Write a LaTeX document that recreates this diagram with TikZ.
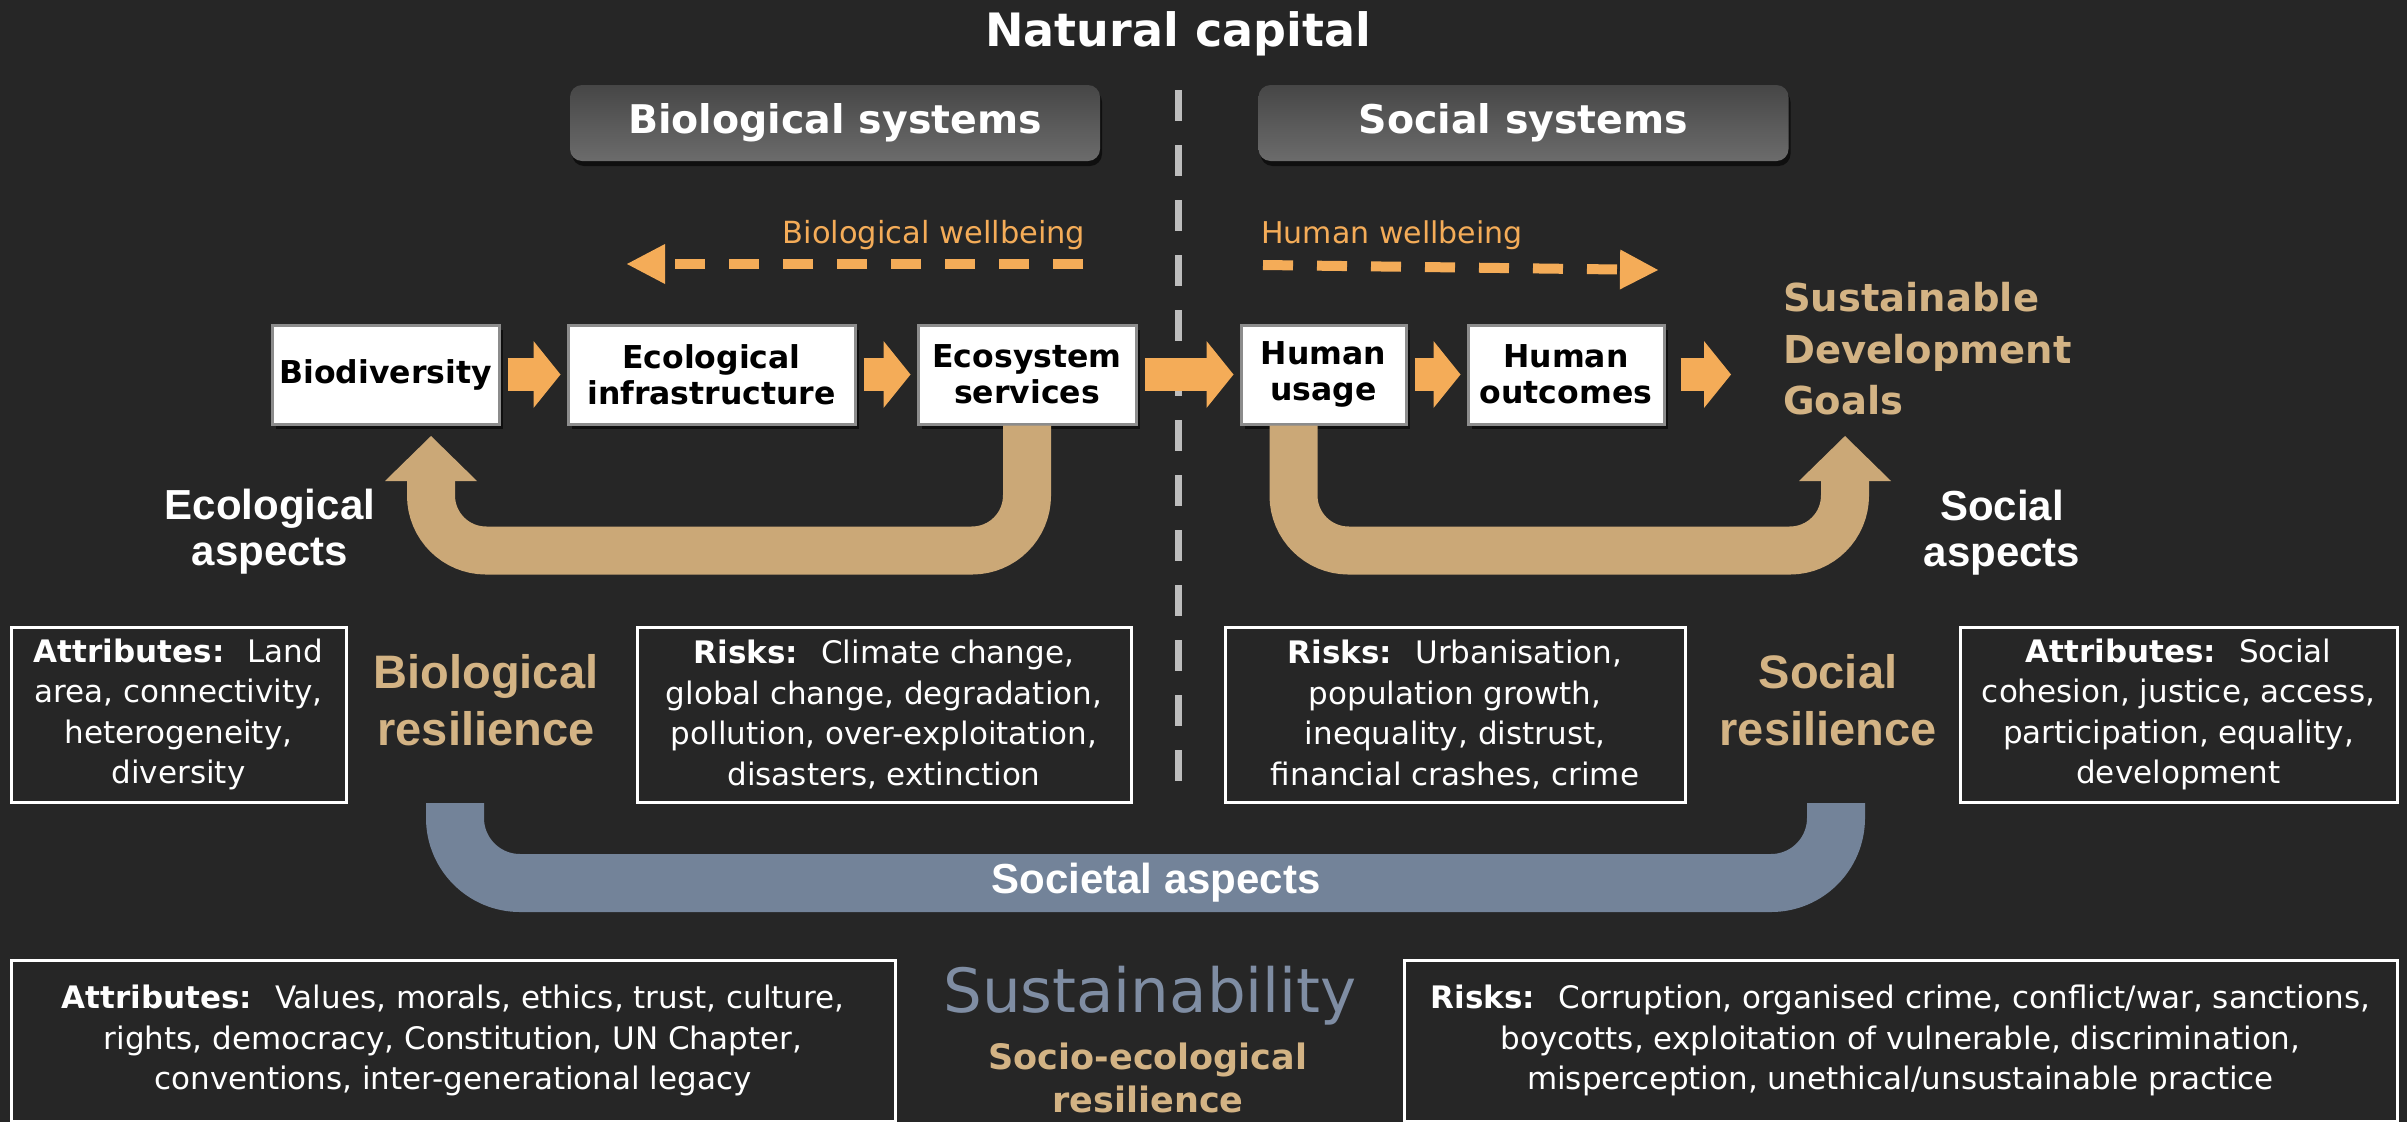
\documentclass[tikz,border=0pt]{standalone}
\usepackage{fontspec}
\setmainfont{DejaVu Sans}
\newfontfamily\arialfont{Liberation Sans}
\usetikzlibrary{positioning}
\usetikzlibrary{arrows.meta}
\usetikzlibrary{shadows}

\definecolor{bgc}{HTML}{262626}
\definecolor{flowc}{HTML}{F4AC58}
\definecolor{tanc}{HTML}{CBA877}
\definecolor{tantext}{HTML}{D3B384}
\definecolor{slatec}{HTML}{738399}
\definecolor{slatetext}{HTML}{7F8DA3}
\definecolor{rimc}{HTML}{8C8C8C}
\definecolor{sysdark}{HTML}{464646}
\definecolor{syslight}{HTML}{6C6C6C}
\definecolor{divc}{HTML}{BDBDBD}

\tikzset{
  tag/.style={inner sep=0pt, align=center},
  box/.style={draw=rimc, line width=3pt, fill=white, text=black, align=center,
    font=\fontsize{31.5}{36}\selectfont\bfseries, minimum height=99pt, inner sep=0pt,
    drop shadow={shadow xshift=4pt, shadow yshift=-5pt, opacity=0.6, fill=black}},
  info/.style={draw=white, line width=3pt, fill=bgc, text=white, align=center,
    font=\fontsize{31}{40.5}\selectfont, minimum height=175pt, inner sep=0pt},
  sysbox/.style={rounded corners=12pt, top color=sysdark, bottom color=syslight,
    text=white, font=\fontsize{39.5}{44}\selectfont\bfseries,
    minimum width=530pt, minimum height=76pt,
    drop shadow={shadow xshift=2pt, shadow yshift=-5pt, opacity=0.6, fill=black}},
  flow/.style={draw=flowc, line width=33pt,
    -{Triangle[width=67pt, length=27pt, line width=0pt]},
    shorten <=7pt, shorten >=6pt},
  feedback/.style={draw=tanc, line width=48pt, rounded corners=55pt,
    -{Triangle[width=92pt, length=45pt, line width=0pt]}},
  band/.style={draw=slatec, line width=58pt, rounded corners=65pt},
  wellbeing/.style={draw=flowc, line width=10pt, dash pattern=on 30pt off 24pt,
    -{Triangle[width=40pt, length=38pt, line width=0pt]}},
  divider/.style={draw=divc, line width=7pt, dash pattern=on 31pt off 24pt},
  aspect/.style={tag, text=white, font=\arialfont\bfseries\fontsize{42}{46}\selectfont},
  resil/.style={tag, text=tantext, font=\arialfont\bfseries\fontsize{47}{57}\selectfont}
}

\begin{document}
\begin{tikzpicture}[x=1pt, y=-1pt]
	\fill[bgc] (0,0) rectangle (2407,1122);
	\path[use as bounding box] (0,0) rectangle (2407,1122);
	
	% title and divider
	\node (nat) [tag, text=white, font=\fontsize{46}{50}\selectfont\bfseries, anchor=base] at (1178,46) {Natural capital};
	\coordinate (divtop) at (1178,90);
	\coordinate (divbot) at (1178,795);
	\draw[divider] (divtop) -- (divbot);
	
	\node (biosys) [sysbox] at (835,123) {Biological systems};
	\node (socsys) [sysbox] at (1523.5,123) {Social systems};
	
	% wellbeing
	\node (bwell) [tag, text=flowc, font=\fontsize{30.5}{34}\selectfont] at (934,235) {Biological wellbeing};
	\node (hwell) [tag, text=flowc, font=\fontsize{30}{34}\selectfont] at (1392,235) {Human wellbeing};
	\coordinate (bw0) at (1083,264);
	\coordinate (bw1) at (627,264);
	\coordinate (hw0) at (1263,265);
	\coordinate (hw1) at (1658,270);
	\draw[wellbeing] (bw0) -- (bw1);
	\draw[wellbeing] (hw0) -- (hw1);
	
	% chain
	\node (bio) [box, minimum width=227pt] at (385.5,374.5) {Biodiversity};
	\node (eco) [box, minimum width=287pt, right=66pt of bio] {Ecological\\infrastructure};
	\node (ess) [box, minimum width=218pt, right=60pt of eco] {Ecosystem\\services};
	\node (use) [box, minimum width=165pt, right=102pt of ess] {Human\\usage};
	\node (out) [box, minimum width=196pt, right=59pt of use] {Human\\outcomes};
	\coordinate (sdgend) at (1737,374.5);
	
	\draw[flow] (bio) -- (eco);
	\draw[flow] (eco) -- (ess);
	\draw[flow] (ess) -- (use);
	\draw[flow] (use) -- (out);
	\draw[flow, shorten <=15pt] (out) -- (sdgend);
	
	\node (sdg) [tag, align=left, anchor=west, text=tantext, font=\fontsize{38.5}{51.5}\selectfont\bfseries] at (1783,349) {Sustainable\\Development\\Goals};
	
	% feedback loops
	\coordinate (biotip) at (431,436);
	\coordinate (sdgtip) at (1845,436);
	\draw[feedback] (ess.south) -- ++(0,125) -| (biotip);
	\draw[feedback] ([xshift=-30pt]use.south) -- ++(0,125) -| (sdgtip);
	
	\node (ecoasp) [aspect] at (270,532) {Ecological\\aspects};
	\node (socasp) [aspect] at (2002,533) {Social\\aspects};
	
	% resilience row
	\node (attrL) [info, minimum width=335pt] at (178.5,714.5) {\textbf{Attributes:}~ Land\\area, connectivity,\\heterogeneity,\\diversity};
	\node (bioresil) [resil] at (486,700) {Biological\\resilience};
	\node (riskL) [info, minimum width=494pt] at (884,714.5) {\textbf{Risks:}~ Climate change,\\global change, degradation,\\pollution, over-exploitation,\\disasters, extinction};
	\node (riskR) [info, minimum width=460pt] at (1455,714.5) {\textbf{Risks:}~ Urbanisation,\\population growth,\\inequality, distrust,\\financial crashes, crime};
	\node (socresil) [resil] at (1828,700) {Social\\resilience};
	\node (attrR) [info, minimum width=437pt] at (2178.5,714.5) {\textbf{Attributes:}~ Social\\cohesion, justice, access,\\participation, equality,\\development};
	
	% societal band
	\coordinate (bandL) at (455,803);
	\coordinate (bandR) at (1836,803);
	\coordinate (socmid) at (1156,883);
	\draw[band] (bandL) |- (socmid) -| (bandR);
	\node (societal) [aspect] at (socmid) {Societal aspects};
	
	% sustainability row
	\node (attrB) [info, minimum width=884pt, minimum height=161pt] at (453,1040.5) {\textbf{Attributes:}~ Values, morals, ethics, trust, culture,\\rights, democracy, Constitution, UN Chapter,\\conventions, inter-generational legacy};
	\node (sust) [tag, text=slatetext, font=\fontsize{61}{70}\selectfont, anchor=base] at (1150,1012) {Sustainability};
	\node (socio) [tag, text=tantext, font=\fontsize{35}{43}\selectfont\bfseries] at (1148,1078) {Socio-ecological\\resilience};
	\node (riskB) [info, minimum width=993pt, minimum height=161pt] at (1900.5,1040.5) {\textbf{Risks:}~ Corruption, organised crime, conflict/war, sanctions,\\boycotts, exploitation of vulnerable, discrimination,\\misperception, unethical/unsustainable practice};
\end{tikzpicture}
\end{document}
